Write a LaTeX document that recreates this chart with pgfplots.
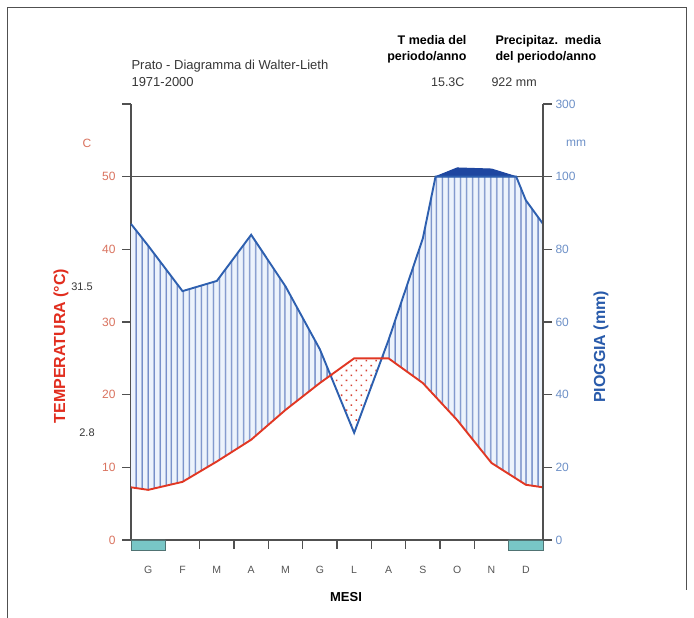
\documentclass[border=0pt]{standalone}
\usepackage{fontspec}
\setmainfont{Liberation Sans}
\usepackage{pgfplots}
\usepackage{pgfplotstable}
\pgfplotsset{compat=1.18}
\usetikzlibrary{patterns.meta}
\definecolor{tline}{RGB}{225,55,35}
\definecolor{tlab}{RGB}{218,115,95}
\definecolor{ttitle}{RGB}{225,45,30}
\definecolor{pline}{RGB}{45,95,175}
\definecolor{plab}{RGB}{110,145,200}
\definecolor{ptitle}{RGB}{40,90,170}
\definecolor{hatch}{RGB}{112,138,198}
\definecolor{hatchbg}{RGB}{236,243,252}
\definecolor{hump}{RGB}{30,70,160}
\definecolor{axgray}{RGB}{80,80,80}
\definecolor{txt}{RGB}{55,55,55}
\definecolor{mon}{RGB}{85,85,85}
\definecolor{frost}{RGB}{120,198,198}
\definecolor{frostdraw}{RGB}{80,115,115}
\definecolor{dotred}{RGB}{215,65,50}

% monthly mean temperature (C), with Dec/Jan mean at both edges
\pgfplotstableread{
x T
0 7.25
0.5 6.9
1.5 8.0
2.5 10.8
3.5 13.8
4.5 17.9
5.5 21.6
6.5 25.0
7.5 25.0
8.5 21.6
9.5 16.5
10.5 10.6
11.5 7.6
12 7.25
}\temp

% monthly precipitation (mm), capped at 100 for the line
\pgfplotstableread{
x P
0 87
0.5 81
1.5 68.5
2.5 71.3
3.5 84
4.5 69.8
5.5 52.5
6.5 29.5
7.5 55
8.5 83
8.87 100
9.5 100
10.5 100
11.22 100
11.5 93.5
12 87
}\prec

% precipitation above 100 mm (compressed scale)
\pgfplotstableread{
x P
8.87 100
9.5 124
10.5 121
11.22 100
8.87 100
}\humptab

% humid period (axis units: P/2 on top, T below)
\pgfplotstableread{
x y
0 43.5
0.5 40.5
1.5 34.25
2.5 35.65
3.5 42
4.5 34.9
5.5 26.25
5.81 22.66
5.5 21.6
4.5 17.9
3.5 13.8
2.5 10.8
1.5 8.0
0.5 6.9
0 7.25
}\humidA

\pgfplotstableread{
x y
7.30 25
7.5 27.5
8.5 41.5
8.87 50
9.5 50
10.5 50
11.22 50
11.5 46.75
12 43.5
12 7.25
11.5 7.6
10.5 10.6
9.5 16.5
8.5 21.6
7.5 25
7.30 25
}\humidB

% arid period
\pgfplotstableread{
x y
5.81 22.66
6.5 25
7.30 25
6.5 14.75
5.81 22.66
}\arid

\begin{document}
\begin{tikzpicture}
\useasboundingbox (0pt,0pt) rectangle (694pt,618pt);
\fill[white] (0pt,0pt) rectangle (694pt,618pt);
\draw[axgray, line width=1pt] (7.5pt,0pt) -- (7.5pt,610pt) -- (686pt,610pt) -- (686pt,28pt);

\begin{axis}[
  at={(131pt,78pt)}, anchor=south west,
  scale only axis, width=412pt, height=436pt,
  xmin=0, xmax=12, ymin=0, ymax=60,
  axis x line*=bottom, axis y line*=left,
  axis line style={axgray, line width=1.3pt},
  tick style={axgray, line width=1.3pt},
  tick align=outside, major tick length=9pt,
  clip=false,
  xtick={1,...,11}, xticklabels={},
  extra x ticks={0.5,1.5,...,11.5},
  extra x tick labels={G,F,M,A,M,G,L,A,S,O,N,D},
  extra x tick style={tick style={draw=none}, xticklabel style={yshift=-14pt}},
  xticklabel style={text=mon, font=\fontsize{10.5}{12}\selectfont},
  ytick={0,10,...,60}, yticklabels={0,10,20,30,40,50,},
  yticklabel style={text=tlab, font=\fontsize{12}{14}\selectfont, xshift=-3pt},
]
\addplot[draw=none, fill=hatchbg] table[x=x,y=y] {\humidA};
\addplot[draw=none, fill=hatchbg] table[x=x,y=y] {\humidB};
\addplot[draw=none, pattern={Lines[angle=90,distance=6.4pt,line width=1.6pt]}, pattern color=hatch] table[x=x,y=y] {\humidA};
\addplot[draw=none, pattern={Lines[angle=90,distance=6.4pt,line width=1.6pt]}, pattern color=hatch] table[x=x,y=y] {\humidB};
\addplot[draw=none, pattern={Dots[distance=7pt,angle=45,radius=1.1pt]}, pattern color=dotred] table[x=x,y=y] {\arid};
\addplot[fill=hump, draw=hump, line width=1pt] table[x=x,y expr=50+(\thisrow{P}-100)/20] {\humptab};
\addplot[axgray, line width=1.1pt] coordinates {(0,50) (12,50)};
\addplot[fill=frost, draw=frostdraw, line width=0.8pt] coordinates {(0,0) (1,0) (1,-1.5) (0,-1.5) (0,0)};
\addplot[fill=frost, draw=frostdraw, line width=0.8pt] coordinates {(11,0) (12,0) (12,-1.5) (11,-1.5) (11,0)};
\addplot[pline, line width=1.9pt] table[x=x,y expr=\thisrow{P}/2] {\prec};
\addplot[tline, line width=1.9pt] table[x=x,y=T] {\temp};
\end{axis}

\begin{axis}[
  at={(131pt,78pt)}, anchor=south west,
  scale only axis, width=412pt, height=436pt,
  xmin=0, xmax=12, ymin=0, ymax=60,
  axis x line=none, axis y line*=right,
  axis line style={axgray, line width=1.3pt},
  tick style={axgray, line width=1.3pt},
  tick align=outside, major tick length=9pt,
  ytick={0,10,...,60}, yticklabels={0,20,40,60,80,100,300},
  yticklabel style={text=plab, font=\fontsize{12}{14}\selectfont},
]
\addplot[draw=none] coordinates {(0,0) (12,60)};
\end{axis}

\node[anchor=west, text=txt, font=\fontsize{13}{15}\selectfont] at (128pt,552pt) {Prato - Diagramma di Walter-Lieth};
\node[anchor=west, text=txt, font=\fontsize{13}{15}\selectfont] at (128pt,536pt) {1971-2000};
\node[anchor=east, align=right, text=black, font=\bfseries\fontsize{12.5}{16}\selectfont] at (470pt,569pt) {T media del\\periodo/anno};
\node[anchor=east, text=txt, font=\fontsize{12.5}{14}\selectfont] at (468pt,536pt) {15.3C};
\node[anchor=west, align=left, text=black, font=\bfseries\fontsize{12.5}{16}\selectfont] at (492pt,569pt) {Precipitaz.\ \ media\\del periodo/anno};
\node[anchor=west, text=txt, font=\fontsize{12.5}{14}\selectfont] at (488pt,536pt) {922 mm};
\node[text=tlab, font=\fontsize{12}{14}\selectfont] at (87pt,475pt) {C};
\node[text=plab, font=\fontsize{12}{14}\selectfont] at (576pt,475pt) {mm};
\node[text=txt, font=\fontsize{11}{13}\selectfont] at (82pt,331pt) {31.5};
\node[text=txt, font=\fontsize{11}{13}\selectfont] at (87pt,185pt) {2.8};
\node[rotate=90, text=ttitle, font=\bfseries\fontsize{16}{18}\selectfont] at (61pt,272pt) {TEMPERATURA (°C)};
\node[rotate=90, text=ptitle, font=\bfseries\fontsize{16}{18}\selectfont] at (601pt,271pt) {PIOGGIA (mm)};
\node[text=black, font=\bfseries\fontsize{13}{15}\selectfont] at (346pt,21pt) {MESI};
\end{tikzpicture}
\end{document}
